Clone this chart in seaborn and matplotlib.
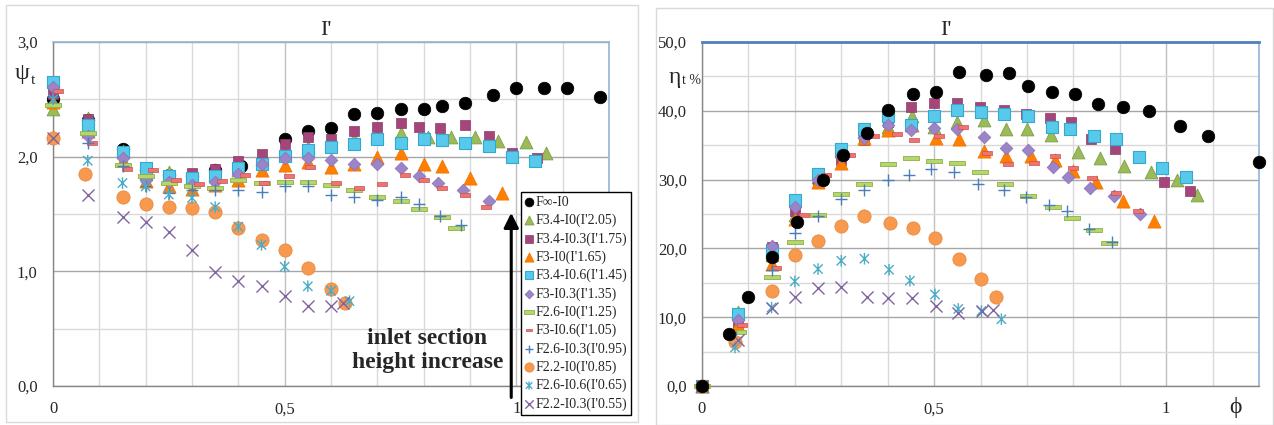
import matplotlib

matplotlib.use("Agg")

import matplotlib.pyplot as plt
from matplotlib.patches import Rectangle
from matplotlib.path import Path
from matplotlib.ticker import FuncFormatter, MultipleLocator
import seaborn as sns

LABELS = [
    "F∞-I0", "F3.4-I0(I'2.05)", "F3.4-I0.3(I'1.75)", "F3-I0(I'1.65)",
    "F3.4-I0.6(I'1.45)", "F3-I0.3(I'1.35)", "F2.6-I0(I'1.25)", "F3-I0.6(I'1.05)",
    "F2.6-I0.3(I'0.95)", "F2.2-I0(I'0.85)", "F2.6-I0.6(I'0.65)", "F2.2-I0.3(I'0.55)",
]

# ---- left panel: psi_t ----
PSI_X_FINF = [0, 0.075, 0.15, 0.2, 0.25, 0.3, 0.35, 0.405, 0.5, 0.55, 0.6, 0.65, 0.7, 0.75, 0.8, 0.84, 0.89, 0.95, 1.0, 1.06, 1.11, 1.18]
PSI_Y_FINF = [2.50, 2.32, 2.07, 1.88, 1.84, 1.83, 1.88, 1.92, 2.15, 2.22, 2.25, 2.37, 2.38, 2.42, 2.42, 2.44, 2.47, 2.54, 2.60, 2.60, 2.60, 2.52]
PSI_X_205 = [0, 0.075, 0.15, 0.2, 0.25, 0.3, 0.35, 0.4, 0.45, 0.5, 0.55, 0.6, 0.65, 0.7, 0.75, 0.81, 0.86, 0.91, 0.96, 1.02, 1.065]
PSI_Y_205 = [2.42, 2.34, 2.05, 1.86, 1.87, 1.82, 1.85, 1.88, 1.98, 2.02, 2.08, 2.12, 2.15, 2.18, 2.21, 2.17, 2.17, 2.17, 2.14, 2.13, 2.03]
PSI_X_175 = [0, 0.075, 0.15, 0.2, 0.25, 0.3, 0.35, 0.4, 0.45, 0.5, 0.55, 0.6, 0.65, 0.7, 0.75, 0.79, 0.835, 0.89, 0.94, 0.99, 1.045]
PSI_Y_175 = [2.55, 2.33, 2.03, 1.85, 1.84, 1.86, 1.89, 1.96, 2.02, 2.11, 2.17, 2.15, 2.22, 2.26, 2.29, 2.26, 2.25, 2.28, 2.18, 2.03, 1.99]
PSI_X_165 = [0, 0.075, 0.15, 0.2, 0.25, 0.3, 0.35, 0.4, 0.45, 0.5, 0.55, 0.6, 0.65, 0.7, 0.75, 0.8, 0.84, 0.9, 0.97]
PSI_Y_165 = [2.48, 2.22, 1.97, 1.79, 1.74, 1.72, 1.75, 1.80, 1.88, 1.93, 1.95, 1.91, 1.94, 2.00, 2.03, 1.94, 1.92, 1.81, 1.68]
PSI_X_145 = [0, 0.075, 0.15, 0.2, 0.25, 0.3, 0.35, 0.4, 0.45, 0.5, 0.55, 0.6, 0.65, 0.7, 0.75, 0.8, 0.84, 0.89, 0.94, 0.99, 1.04]
PSI_Y_145 = [2.65, 2.28, 2.04, 1.90, 1.83, 1.81, 1.83, 1.90, 1.94, 2.01, 2.06, 2.08, 2.11, 2.15, 2.12, 2.15, 2.145, 2.12, 2.09, 2.00, 1.965]
PSI_X_135 = [0, 0.075, 0.15, 0.2, 0.25, 0.3, 0.35, 0.4, 0.45, 0.5, 0.55, 0.6, 0.65, 0.7, 0.75, 0.79, 0.83, 0.885, 0.94]
PSI_Y_135 = [2.61, 2.18, 1.99, 1.80, 1.78, 1.75, 1.78, 1.85, 1.94, 1.99, 1.99, 1.97, 1.94, 1.94, 1.90, 1.83, 1.77, 1.71, 1.61]
PSI_X_125 = [0, 0.075, 0.15, 0.2, 0.25, 0.3, 0.35, 0.4, 0.45, 0.5, 0.55, 0.6, 0.65, 0.7, 0.75, 0.79, 0.84, 0.87]
PSI_Y_125 = [2.45, 2.21, 1.93, 1.83, 1.77, 1.74, 1.73, 1.80, 1.77, 1.78, 1.78, 1.75, 1.71, 1.645, 1.61, 1.54, 1.47, 1.375]
PSI_X_105 = [0.01, 0.085, 0.16, 0.215, 0.265, 0.315, 0.365, 0.415, 0.455, 0.51, 0.555, 0.61, 0.66, 0.71, 0.76, 0.8, 0.84, 0.89, 0.935]
PSI_Y_105 = [2.57, 2.12, 1.89, 1.88, 1.80, 1.76, 1.79, 1.84, 1.77, 1.83, 1.91, 1.77, 1.73, 1.76, 1.84, 1.80, 1.73, 1.67, 1.56]
PSI_X_095 = [0, 0.075, 0.15, 0.2, 0.25, 0.3, 0.35, 0.4, 0.45, 0.5, 0.55, 0.6, 0.65, 0.7, 0.75, 0.79, 0.835, 0.88]
PSI_Y_095 = [2.52, 2.12, 1.92, 1.74, 1.68, 1.71, 1.71, 1.71, 1.69, 1.74, 1.74, 1.67, 1.65, 1.62, 1.65, 1.59, 1.48, 1.40]
PSI_X_085 = [0, 0.07, 0.15, 0.2, 0.25, 0.3, 0.35, 0.4, 0.45, 0.5, 0.55, 0.6, 0.63]
PSI_Y_085 = [2.16, 1.85, 1.645, 1.59, 1.56, 1.55, 1.52, 1.375, 1.27, 1.19, 1.03, 0.85, 0.72]
PSI_X_065 = [0, 0.075, 0.15, 0.2, 0.25, 0.3, 0.35, 0.4, 0.45, 0.5, 0.55, 0.6, 0.64]
PSI_Y_065 = [2.50, 1.965, 1.77, 1.74, 1.67, 1.64, 1.56, 1.39, 1.23, 1.04, 0.87, 0.83, 0.74]
PSI_X_055 = [0, 0.075, 0.15, 0.2, 0.25, 0.3, 0.35, 0.4, 0.45, 0.5, 0.55, 0.6, 0.625]
PSI_Y_055 = [2.16, 1.67, 1.47, 1.43, 1.34, 1.19, 0.99, 0.92, 0.87, 0.785, 0.70, 0.70, 0.72]

# ---- right panel: eta_t % ----
ETA_X_FINF = [0, 0.058, 0.10, 0.15, 0.205, 0.26, 0.303, 0.355, 0.40, 0.455, 0.505, 0.554, 0.612, 0.662, 0.703, 0.755, 0.803, 0.853, 0.907, 0.963, 1.03, 1.09, 1.20]
ETA_Y_FINF = [0, 7.5, 13.0, 18.8, 23.9, 30.0, 33.6, 36.8, 40.1, 42.4, 42.7, 45.7, 45.2, 45.5, 43.6, 42.7, 42.4, 41.0, 40.5, 39.9, 37.8, 36.3, 32.5]
ETA_X_205 = [0, 0.078, 0.15, 0.2, 0.25, 0.3, 0.35, 0.40, 0.452, 0.50, 0.55, 0.608, 0.656, 0.70, 0.751, 0.81, 0.857, 0.909, 0.968, 1.024, 1.067]
ETA_Y_205 = [0, 10.8, 19.0, 24.8, 30.4, 34.1, 37.0, 37.7, 39.3, 37.7, 38.3, 38.7, 37.3, 37.3, 36.5, 34.0, 33.1, 32.0, 31.1, 29.9, 27.8]
ETA_X_175 = [0, 0.078, 0.15, 0.2, 0.25, 0.3, 0.35, 0.40, 0.45, 0.50, 0.55, 0.598, 0.65, 0.697, 0.749, 0.796, 0.838, 0.89, 0.943, 0.996, 1.052]
ETA_Y_175 = [0, 9.2, 20.2, 25.4, 29.5, 32.8, 35.8, 38.3, 40.5, 41.1, 41.1, 40.5, 40.1, 39.6, 38.9, 38.3, 35.9, 34.5, 33.3, 29.6, 28.3]
ETA_X_165 = [0, 0.078, 0.15, 0.2, 0.25, 0.3, 0.35, 0.40, 0.452, 0.505, 0.553, 0.608, 0.656, 0.708, 0.76, 0.80, 0.849, 0.906, 0.973]
ETA_Y_165 = [0, 8.9, 17.8, 24.3, 29.7, 32.4, 36.0, 37.2, 38.0, 36.0, 35.9, 34.1, 33.4, 33.4, 32.8, 31.2, 29.6, 26.9, 24.0]
ETA_X_145 = [0, 0.078, 0.15, 0.2, 0.25, 0.3, 0.35, 0.40, 0.45, 0.50, 0.55, 0.60, 0.65, 0.703, 0.753, 0.793, 0.844, 0.892, 0.942, 0.991, 1.043]
ETA_Y_145 = [0, 10.5, 19.7, 27.0, 30.8, 34.5, 37.3, 39.3, 38.0, 39.2, 40.1, 39.8, 39.5, 39.2, 37.7, 37.3, 36.4, 35.9, 33.3, 31.7, 30.4]
ETA_X_135 = [0, 0.078, 0.15, 0.2, 0.25, 0.3, 0.35, 0.40, 0.45, 0.50, 0.55, 0.608, 0.656, 0.703, 0.757, 0.788, 0.836, 0.888, 0.944]
ETA_Y_135 = [0, 9.6, 20.3, 26.0, 30.0, 33.5, 36.0, 37.9, 37.2, 37.5, 37.4, 36.2, 34.6, 34.3, 31.9, 30.4, 28.8, 27.6, 25.0]
ETA_X_125 = [0, 0.078, 0.15, 0.2, 0.25, 0.3, 0.35, 0.40, 0.45, 0.50, 0.55, 0.598, 0.653, 0.703, 0.757, 0.798, 0.845, 0.876]
ETA_Y_125 = [0, 7.9, 15.9, 20.9, 24.9, 27.9, 29.3, 32.3, 33.1, 32.7, 32.4, 31.1, 29.4, 27.6, 26.0, 24.4, 22.7, 20.8]
ETA_X_105 = [0, 0.086, 0.16, 0.219, 0.268, 0.318, 0.37, 0.42, 0.457, 0.511, 0.562, 0.615, 0.66, 0.716, 0.76, 0.80, 0.84, 0.892, 0.94]
ETA_Y_105 = [0, 8.8, 17.2, 24.9, 30.7, 33.6, 36.4, 36.7, 35.8, 36.4, 37.6, 33.9, 32.3, 32.4, 33.5, 31.7, 30.2, 28.0, 25.4]
ETA_X_095 = [0, 0.073, 0.15, 0.2, 0.25, 0.3, 0.35, 0.40, 0.446, 0.493, 0.543, 0.595, 0.65, 0.697, 0.747, 0.786, 0.833, 0.883]
ETA_Y_095 = [0, 7.1, 16.8, 22.2, 24.7, 27.2, 28.5, 30.0, 30.7, 31.5, 31.1, 29.4, 28.5, 27.5, 26.3, 25.4, 22.8, 21.0]
ETA_X_085 = [0, 0.071, 0.15, 0.2, 0.25, 0.3, 0.35, 0.405, 0.454, 0.502, 0.554, 0.60, 0.634]
ETA_Y_085 = [0, 6.4, 13.8, 19.1, 21.1, 23.3, 24.7, 23.7, 22.9, 21.5, 18.4, 15.6, 13.0]
ETA_X_065 = [0, 0.071, 0.15, 0.2, 0.25, 0.3, 0.35, 0.403, 0.448, 0.502, 0.552, 0.602, 0.645]
ETA_Y_065 = [0, 5.6, 11.4, 15.2, 17.0, 18.2, 18.5, 16.9, 15.3, 13.3, 11.2, 10.9, 9.7]
ETA_X_055 = [0, 0.078, 0.15, 0.2, 0.25, 0.3, 0.355, 0.40, 0.452, 0.504, 0.551, 0.604, 0.627]
ETA_Y_055 = [0, 6.7, 11.4, 12.9, 14.3, 14.4, 12.9, 12.8, 12.8, 11.7, 10.6, 10.9, 11.0]

PSI_SERIES = [
    (PSI_X_FINF, PSI_Y_FINF), (PSI_X_205, PSI_Y_205), (PSI_X_175, PSI_Y_175),
    (PSI_X_165, PSI_Y_165), (PSI_X_145, PSI_Y_145), (PSI_X_135, PSI_Y_135),
    (PSI_X_125, PSI_Y_125), (PSI_X_105, PSI_Y_105), (PSI_X_095, PSI_Y_095),
    (PSI_X_085, PSI_Y_085), (PSI_X_065, PSI_Y_065), (PSI_X_055, PSI_Y_055),
]
ETA_SERIES = [
    (ETA_X_FINF, ETA_Y_FINF), (ETA_X_205, ETA_Y_205), (ETA_X_175, ETA_Y_175),
    (ETA_X_165, ETA_Y_165), (ETA_X_145, ETA_Y_145), (ETA_X_135, ETA_Y_135),
    (ETA_X_125, ETA_Y_125), (ETA_X_105, ETA_Y_105), (ETA_X_095, ETA_Y_095),
    (ETA_X_085, ETA_Y_085), (ETA_X_065, ETA_Y_065), (ETA_X_055, ETA_Y_055),
]

# wide flat bars used by Excel's "dash" markers
LONG_DASH = [(-1, -0.3), (1, -0.3), (1, 0.3), (-1, 0.3), (-1, -0.3)]
SHORT_DASH = [(-1, -0.45), (1, -0.45), (1, 0.45), (-1, 0.45), (-1, -0.45)]
# Excel asterisk: an X with a vertical stroke
ASTERISK = Path(
    [(0, -1), (0, 1), (-0.8, -0.8), (0.8, 0.8), (-0.8, 0.8), (0.8, -0.8)],
    [Path.MOVETO, Path.LINETO] * 3,
)

STYLES = [
    dict(marker="o", s=82, color="#000000", edgecolor="#000000", linewidth=0.5),
    dict(marker="^", s=85, color="#9BBB59", edgecolor="#7F9E45", linewidth=0.6),
    dict(marker="s", s=62, color="#A4467A", edgecolor="#8E3A68", linewidth=0.5),
    dict(marker="^", s=90, color="#FF7F00", edgecolor="#F07000", linewidth=0.5),
    dict(marker="s", s=72, color="#58C9EA", edgecolor="#33A9CF", linewidth=0.8),
    dict(marker="D", s=42, color="#9C84C8", edgecolor="#8A70B8", linewidth=0.5),
    dict(marker=LONG_DASH, s=120, color="#B5D66C", edgecolor="#8DB046", linewidth=0.6),
    dict(marker=SHORT_DASH, s=45, color="#EE7373", edgecolor="#C9504D", linewidth=0.5),
    dict(marker="+", s=80, color="#4A7EBB", linewidth=1.0),
    dict(marker="o", s=90, color="#F79A50", edgecolor="#E9883C", linewidth=0.6),
    dict(marker=ASTERISK, s=70, color="none", edgecolor="#4BACC6", linewidth=1.0),
    dict(marker="x", s=75, color="#8064A2", linewidth=1.0),
]

SERIF = ["Liberation Serif", "DejaVu Serif"]
W, H = 1274, 425


def comma(v, _pos):
    return f"{v:.1f}".replace(".", ",")


def comma_short(v, _pos):
    return f"{v:g}".replace(".", ",")


def style_axes(ax, ymax, ymajor, yminor, top_color, top_lw):
    ax.set_xlim(0, 1.2)
    ax.set_ylim(0, ymax)
    ax.xaxis.set_major_locator(MultipleLocator(0.5))
    ax.xaxis.set_minor_locator(MultipleLocator(0.1))
    ax.yaxis.set_major_locator(MultipleLocator(ymajor))
    ax.yaxis.set_minor_locator(MultipleLocator(yminor))
    ax.xaxis.set_major_formatter(FuncFormatter(comma_short))
    ax.yaxis.set_major_formatter(FuncFormatter(comma))
    ax.grid(which="minor", axis="x", color="#D9D9D9", lw=1.0)
    ax.grid(which="major", axis="x", color="#BFBFBF", lw=1.0)
    ax.grid(which="minor", axis="y", color="#D9D9D9", lw=1.0)
    ax.grid(which="major", axis="y", color="#A6A6A6", lw=1.0)
    ax.set_axisbelow(True)
    ax.tick_params(which="major", direction="out", length=4, width=1, color="#868686",
                   labelsize=12, pad=7)
    ax.tick_params(which="minor", length=0)
    for lab in ax.get_xticklabels() + ax.get_yticklabels():
        lab.set_family(SERIF)
    for side in ("left", "bottom"):
        ax.spines[side].set_color("#868686")
        ax.spines[side].set_linewidth(1.0)
    ax.spines["right"].set_color("#95B3D7")
    ax.spines["right"].set_linewidth(1.2)
    ax.spines["top"].set_color(top_color)
    ax.spines["top"].set_linewidth(top_lw)
    ax.set_xlabel("")
    ax.set_ylabel("")


def draw_series(ax, series, top_first):
    handles = []
    for i, ((xs, ys), st) in enumerate(zip(series, STYLES)):
        z = 3 + i
        if top_first and i == 0:
            z = 20
        sns.scatterplot(x=xs, y=ys, ax=ax, legend=False, zorder=z, clip_on=False, **st)
        handles.append(ax.collections[-1])
    return handles


def main():
    sns.set_theme(style="white")
    plt.rcParams["font.family"] = SERIF
    plt.rcParams["axes.unicode_minus"] = False

    fig = plt.figure(figsize=(W / 100, H / 100), dpi=100)

    # chart-area frames
    for x0, y0, x1, y1 in [(6, 5, 638, 422), (656, 8, 1273, 425)]:
        fig.patches.append(Rectangle((x0 / W, 1 - y1 / H), (x1 - x0) / W, (y1 - y0) / H,
                                     transform=fig.transFigure, fill=False,
                                     edgecolor="#D9D9D9", lw=1.0))

    ax_psi = fig.add_axes([53 / W, 39 / H, 556 / W, 344 / H])
    ax_eta = fig.add_axes([702 / W, 39 / H, 557 / W, 344 / H])

    handles = draw_series(ax_psi, PSI_SERIES, top_first=False)
    draw_series(ax_eta, ETA_SERIES, top_first=True)

    style_axes(ax_psi, 3.0, 1.0, 0.5, "#95B3D7", 1.2)
    style_axes(ax_eta, 50, 10, 5, "#4F81BD", 2.0)

    # titles and axis names
    fig.text(326 / W, 1 - 35 / H, "I'", ha="center", va="baseline", fontsize=16, family=SERIF)
    fig.text(946 / W, 1 - 35 / H, "I'", ha="center", va="baseline", fontsize=16, family=SERIF)
    fig.text(22 / W, 1 - 74 / H, "ψ", ha="center", va="center", fontsize=17, family=SERIF)
    fig.text(33 / W, 1 - 80 / H, "t", ha="center", va="center", fontsize=11, family=SERIF)
    fig.text(675 / W, 1 - 77 / H, "η", ha="center", va="center", fontsize=17, family=SERIF)
    fig.text(682 / W, 1 - 81 / H, "t %", ha="left", va="center", fontsize=10, family=SERIF)
    fig.text(1235 / W, 1 - 408 / H, "ϕ", ha="center", va="center", fontsize=17, family=SERIF)

    # arrow + note in the left chart
    ax_psi.annotate("", xy=(0.989, 1.51), xytext=(0.989, -0.10),
                    arrowprops=dict(arrowstyle="-|>", color="black", lw=2.2,
                                    mutation_scale=22, shrinkA=0, shrinkB=0),
                    annotation_clip=False, zorder=25)
    ax_psi.text(0.808, 0.31, "inlet section\nheight increase", ha="center", va="center",
                fontsize=17, fontweight="bold", family=SERIF, linespacing=1.15, zorder=25)

    leg = ax_psi.legend(handles, LABELS, loc="upper left",
                        bbox_to_anchor=(521 / W, 1 - 192 / H), bbox_transform=fig.transFigure,
                        borderaxespad=0, frameon=True, fancybox=False, framealpha=1,
                        edgecolor="black", labelspacing=0.35,
                        handlelength=0.6, handletextpad=0.15, borderpad=0.28,
                        markerscale=0.7, prop={"family": SERIF, "size": 10})
    leg.get_frame().set_linewidth(1.0)
    leg.set_zorder(30)

    fig.savefig("out.png", dpi=100)
    plt.close(fig)


if __name__ == "__main__":
    main()
